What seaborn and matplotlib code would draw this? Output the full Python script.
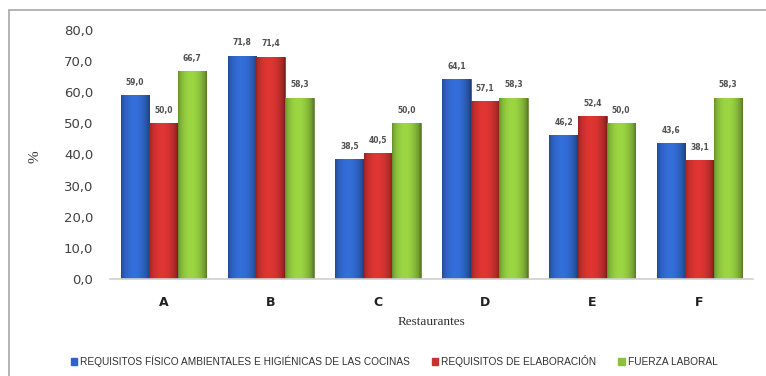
import numpy as np
import pandas as pd
import matplotlib
matplotlib.use("Agg")
import matplotlib.pyplot as plt
from matplotlib import font_manager
from matplotlib.colors import to_rgb
from matplotlib.lines import Line2D
from matplotlib.patches import Patch
import seaborn as sns

restaurantes = ["A", "B", "C", "D", "E", "F"]
series = [
    "REQUISITOS FÍSICO AMBIENTALES E HIGIÉNICAS DE LAS COCINAS",
    "REQUISITOS DE ELABORACIÓN",
    "FUERZA LABORAL",
]
fisico_ambientales = [59.0, 71.8, 38.5, 64.1, 46.2, 43.6]
elaboracion = [50.0, 71.4, 40.5, 57.1, 52.4, 38.1]
fuerza_laboral = [66.7, 58.3, 50.0, 58.3, 50.0, 58.3]
y_ticks = [0, 10, 20, 30, 40, 50, 60, 70, 80]

colors = ["#2f63c4", "#c9302e", "#8cc13c"]

df = pd.DataFrame({
    "Restaurante": restaurantes * 3,
    "Serie": [series[0]] * 6 + [series[1]] * 6 + [series[2]] * 6,
    "Valor": fisico_ambientales + elaboracion + fuerza_laboral,
})

sns.set_theme(style="white")
names = {f.name for f in font_manager.fontManager.ttflist}
narrow = "Liberation Sans Narrow" if "Liberation Sans Narrow" in names else "Liberation Sans"

W, H = 766, 376
fig = plt.figure(figsize=(W / 100, H / 100), dpi=100)
ax = fig.add_axes([110 / W, 1 - 279 / H, (753 - 110) / W, (279 - 30) / H])

sns.barplot(data=df, x="Restaurante", y="Valor", hue="Serie", order=restaurantes,
            hue_order=series, palette=colors, width=0.8, saturation=1,
            ax=ax, legend=False)

# horizontal shading profile for a rounded, glossy look on each bar
t = np.linspace(0, 1, 64)
shade = 0.72 + 0.45 * np.sin(np.pi * t) ** 0.6 - 0.12 * t

for i, cont in enumerate(ax.containers):
    base = np.array(to_rgb(colors[i]))
    img = np.clip(base[None, None, :] * shade[None, :, None], 0, 1)
    for bar in cont:
        bar.set_edgecolor(sns.dark_palette(colors[i], n_colors=3)[1])
        bar.set_linewidth(0.5)
        x0, w, h = bar.get_x(), bar.get_width(), bar.get_height()
        im = ax.imshow(img, extent=[x0, x0 + w, 0, h], aspect="auto",
                       interpolation="bilinear", zorder=bar.get_zorder() + 0.1)
        im.set_clip_path(bar)
    ax.bar_label(cont, labels=[f"{v:.1f}".replace(".", ",") for v in cont.datavalues],
                 padding=6, fontsize=5.5, fontweight="bold", color="#505050",
                 family="DejaVu Sans")

ax.set_ylim(0, 80)
ax.set_xlim(-0.5, 5.5)
ax.set_yticks(y_ticks)
ax.set_yticklabels([f"{v:.1f}".replace(".", ",") for v in y_ticks],
                   fontsize=9.5, color="#404040", family="DejaVu Sans")
ax.set_xticks(range(len(restaurantes)))
ax.set_xticklabels(restaurantes, fontsize=9, fontweight="bold", color="#202020",
                   family="DejaVu Sans")
ax.tick_params(axis="y", length=0, pad=12)
ax.tick_params(axis="x", length=0, pad=12)
for s in ["left", "right", "top"]:
    ax.spines[s].set_visible(False)
ax.spines["bottom"].set_color("#d0d0d0")
ax.spines["bottom"].set_linewidth(1.2)
ax.set_xlabel("")
ax.set_ylabel("")
ax.grid(False)

fig.text(35 / W, 1 - 157 / H, "%", rotation=90, ha="center", va="center",
         fontsize=11, family="Liberation Serif", color="#303030")
fig.text(431 / W, 1 - 322 / H, "Restaurantes", ha="center", va="center",
         fontsize=9.5, family="Liberation Serif", color="#303030")

handles = [Patch(facecolor=c, edgecolor=c) for c in colors]
fig.legend(handles, series, loc="center", bbox_to_anchor=(394 / W, 1 - 361 / H),
           ncol=3, frameon=False, handlelength=0.6, handleheight=0.6,
           handletextpad=0.3, columnspacing=2.2,
           prop={"family": narrow, "size": 7.3}, labelcolor="#303030")

# outer frame
fig.add_artist(Line2D([9 / W, 1], [1 - 10 / H, 1 - 10 / H], transform=fig.transFigure,
                      color="#a8a8a8", lw=1.2))
fig.add_artist(Line2D([9 / W, 9 / W], [0, 1 - 10 / H], transform=fig.transFigure,
                      color="#a8a8a8", lw=1.2))

fig.savefig("out.png", dpi=100)
